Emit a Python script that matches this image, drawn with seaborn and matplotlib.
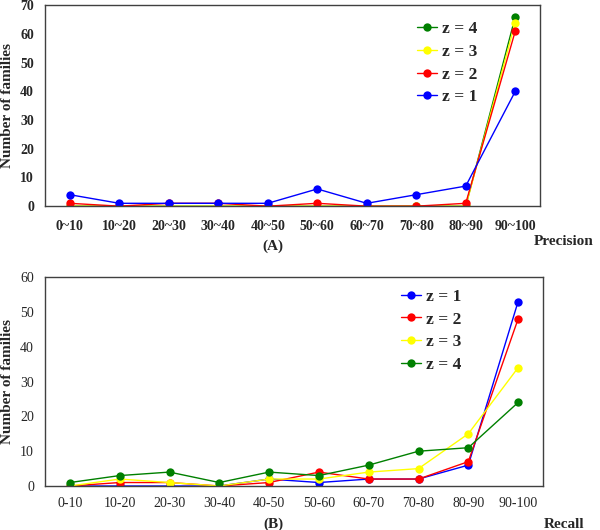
import pandas as pd
import matplotlib.pyplot as plt
import seaborn as sns

# ── Data ──────────────────────────────────────────────
prec_bins = ["0~10", "10~20", "20~30", "30~40", "40~50",
             "50~60", "60~70", "70~80", "80~90", "90~100"]
rec_bins = ["0-10", "10-20", "20-30", "30-40", "40-50",
            "50-60", "60-70", "70-80", "80-90", "90-100"]

prec_z1 = [4, 1, 1, 1, 1, 6, 1, 4, 7, 40]
prec_z2 = [1, 0, 1, 1, 0, 1, 0, 0, 1, 61]
prec_z3 = [0, 0, 0, 0, 0, 0, 0, 0, 0, 64]
prec_z4 = [0, 0, 0, 0, 0, 0, 0, 0, 0, 66]

rec_z1 = [0, 0, 0, 0, 2, 1, 2, 2, 6, 53]
rec_z2 = [0, 1, 1, 0, 1, 4, 2, 2, 7, 48]
rec_z3 = [0, 2, 1, 0, 2, 2, 4, 5, 15, 34]
rec_z4 = [1, 3, 4, 1, 4, 3, 6, 10, 11, 24]

labels = ["z = 1", "z = 2", "z = 3", "z = 4"]
colors = {"z = 1": "#0000ff", "z = 2": "#ff0000",
          "z = 3": "#ffff00", "z = 4": "#008000"}


def long_df(bins, series):
    rows = []
    for lab, vals in zip(labels, series):
        for i, (b, v) in enumerate(zip(bins, vals)):
            rows.append({"pos": i, "bin": b, "z": lab, "count": v})
    return pd.DataFrame(rows)


dfa = long_df(prec_bins, [prec_z1, prec_z2, prec_z3, prec_z4])
dfb = long_df(rec_bins, [rec_z1, rec_z2, rec_z3, rec_z4])

sns.set_style("white")
plt.rcParams["font.family"] = ["Liberation Serif", "DejaVu Serif"]

fig = plt.figure(figsize=(6, 5.3), dpi=100)
ax1 = fig.add_axes([0.075, 0.611, 0.825, 0.379])
ax2 = fig.add_axes([0.075, 0.083, 0.830, 0.394])

leg_prop = {"size": 12.5, "weight": "bold", "family": "Liberation Serif"}

# ── Panel A: Precision ────────────────────────────────
sns.lineplot(data=dfa, x="pos", y="count", hue="z",
             hue_order=["z = 4", "z = 3", "z = 2", "z = 1"],
             palette=colors, marker="o", markersize=6, markeredgewidth=0,
             linewidth=1, ax=ax1)
ax1.set_xlim(-0.5, 9.5)
ax1.set_ylim(0, 70)
ax1.set_xticks(range(10))
ax1.set_xticklabels(prec_bins, fontsize=10, fontweight="bold")
ax1.set_yticks(range(0, 71, 10))
ax1.set_yticklabels(range(0, 71, 10), fontsize=10, fontweight="bold")
ax1.set_xlabel("")
ax1.set_ylabel("Number of families", fontsize=11, fontweight="bold")
ax1.tick_params(axis="x", length=0, pad=10)
ax1.tick_params(axis="y", length=0, pad=8)
ax1.legend(loc="upper left", bbox_to_anchor=(0.72, 1.0), frameon=False,
           prop=leg_prop, handlelength=1.15, handletextpad=0.3,
           labelspacing=0.38)
fig.text(0.455, 0.528, "(A)", fontsize=11, fontweight="bold", ha="center")
fig.text(0.94, 0.538, "Precision", fontsize=11, fontweight="bold", ha="center")

# ── Panel B: Recall ───────────────────────────────────
sns.lineplot(data=dfb, x="pos", y="count", hue="z",
             hue_order=labels, palette=colors, marker="o", markersize=6,
             markeredgewidth=0, linewidth=1, ax=ax2)
ax2.set_xlim(-0.5, 9.5)
ax2.set_ylim(0, 60)
ax2.set_xticks(range(10))
ax2.set_xticklabels(rec_bins, fontsize=10)
ax2.set_yticks(range(0, 61, 10))
ax2.set_yticklabels(range(0, 61, 10), fontsize=10)
ax2.set_xlabel("")
ax2.set_ylabel("Number of families", fontsize=11, fontweight="bold")
ax2.tick_params(axis="x", length=0, pad=8)
ax2.tick_params(axis="y", length=0, pad=8)
ax2.legend(loc="upper left", bbox_to_anchor=(0.684, 1.02), frameon=False,
           prop=leg_prop, handlelength=1.15, handletextpad=0.3,
           labelspacing=0.38)
fig.text(0.455, 0.004, "(B)", fontsize=11, fontweight="bold", ha="center")
fig.text(0.94, 0.004, "Recall", fontsize=11, fontweight="bold", ha="center")

for ax in (ax1, ax2):
    for s in ax.spines.values():
        s.set_color("#404040")
        s.set_linewidth(1)

plt.savefig("out.png", dpi=100)
plt.close()
